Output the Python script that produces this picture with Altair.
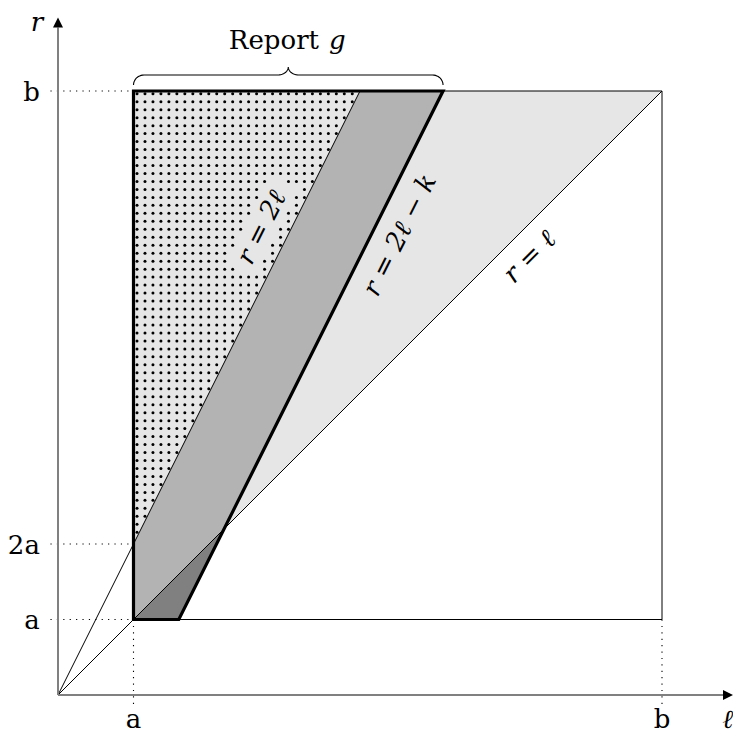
import altair as alt
import pandas as pd
import numpy as np

# ---- values (a = 1 unit) ----
A = 1.0          # a
B = 8.0          # b
K = 2.2          # k in r = 2l - k
DOT_STEP = 0.1056
DOT_X0 = 1.0464
DOT_Y0 = 7.858

tick_x_labels = ["a", "b"]
tick_x_values = [A, B]
tick_y_labels = ["a", "2a", "b"]
tick_y_values = [A, 2 * A, B]

# ---- layout ----
U = 75.5
W, H = 725, 725
OX, OY = 50, 687
XD = [-OX / U, (W - OX) / U]
YD = [(OY - H) / U, OY / U]

FONT = "DejaVu Serif"
FS = 26

xs = alt.Scale(domain=XD, nice=False, zero=False)
ys = alt.Scale(domain=YD, nice=False, zero=False)
X = alt.X("x:Q", scale=xs, axis=None)
Y = alt.Y("y:Q", scale=ys, axis=None)


def area(df, color):
    return alt.Chart(df).mark_area(color=color, opacity=1, strokeWidth=0).encode(
        x=X, y=Y, y2=alt.Y2("y2:Q"))


def segs(segments):
    rows = []
    for si, pts in enumerate(segments):
        for oi, (px, py) in enumerate(pts):
            rows.append({"seg": si, "o": oi, "x": px, "y": py})
    return pd.DataFrame(rows)


def lines(df, **kw):
    return alt.Chart(df).mark_line(**kw).encode(
        x=X, y=Y, detail="seg:N", order="o:Q")


# light gray triangle r >= l, a <= l, r <= b
light = area(pd.DataFrame({"x": [A, B], "y": [A, B], "y2": [B, B]}), "#e6e6e6")

# dot pattern left of r = 2l
ii = np.arange(-2, 80)
gx, gy = np.meshgrid(DOT_X0 + ii * DOT_STEP, DOT_Y0 - ii * DOT_STEP)
gx, gy = gx.ravel(), gy.ravel()
m = (gx > A + 0.02) & (gy < B - 0.02) & (gy > 2 * gx + 0.03)
# keep the label r = 2l free of dots
LX, LY, LA = 2.70, 6.19, np.arctan(2.0)
du = (gx - LX) * np.cos(LA) + (gy - LY) * np.sin(LA)
dv = -(gx - LX) * np.sin(LA) + (gy - LY) * np.cos(LA)
m &= ~((np.abs(du) < 0.66) & (np.abs(dv) < 0.23))
dots = alt.Chart(pd.DataFrame({"x": gx[m], "y": gy[m]})).mark_circle(
    size=9, color="black", opacity=1).encode(x=X, y=Y)

# medium band between r = 2l and r = 2l - k
band = area(pd.DataFrame({
    "x": [A, K, B / 2, (B + K) / 2],
    "y": [A, K, B - K, B],
    "y2": [2 * A, 2 * K, B, B]}), "#b3b3b3")

# dark part of the band under r = l
dark = area(pd.DataFrame({
    "x": [A, (A + K) / 2, K],
    "y": [A, A, K],
    "y2": [A, (A + K) / 2, K]}), "#808080")

thin = lines(segs([
    [(A, A), (B, A), (B, B), (A, B)],
    [(0, 0), (B, B)],
    [(0, 0), (B / 2, B)],
]), color="black", strokeWidth=1)

dotted = lines(segs([
    [(-0.1, A), (A, A)],
    [(-0.1, 2 * A), (A, 2 * A)],
    [(-0.1, B), (A, B)],
    [(A, A), (A, -0.12)],
    [(B, A), (B, -0.12)],
]), color="black", strokeWidth=1.1, strokeDash=[1.2, 5.2])

thick = lines(segs([
    [(A, A), (A, B), ((B + K) / 2, B), ((A + K) / 2, A), (A, A)],
]), color="black", strokeWidth=3.2, strokeJoin="miter", strokeCap="square")

AXE = (W - OX - 5) / U      # arrow centre, tip at the right edge
axes = lines(segs([
    [(0, 0), (AXE - 0.05, 0)],
    [(0, 0), (0, 8.84)],
]), color="#808080", strokeWidth=2)

arrow_x = alt.Chart(pd.DataFrame({"x": [AXE], "y": [0]})).mark_point(
    shape="M-1,-1L1,0L-1,1Z", size=100, filled=True, color="black", opacity=1).encode(x=X, y=Y)
arrow_y = alt.Chart(pd.DataFrame({"x": [0], "y": [8.907]})).mark_point(
    shape="M-1,1L0,-1L1,1Z", size=100, filled=True, color="black", opacity=1).encode(x=X, y=Y)

# brace over [a, (b+k)/2]
x0, x1 = A, (B + K) / 2
xm = (x0 + x1) / 2
yb, h1, h2, rx = 8.079, 0.133, 0.106, 0.14
t = np.linspace(0, np.pi / 2, 12)
left = list(zip(x0 + rx * (1 - np.cos(t)), yb + h1 * np.sin(t))) + \
    list(zip(xm - rx + rx * np.sin(t), yb + h1 + h2 * (1 - np.cos(t))))
right = [(2 * xm - px, py) for px, py in reversed(left)]
brace = lines(segs([left + right]), color="black", strokeWidth=1.1)


def text(df, **kw):
    return alt.Chart(df).mark_text(font=FONT, fontSize=FS, color="black", **kw).encode(
        x=X, y=Y, text="t:N")


tx = text(pd.DataFrame({"x": tick_x_values, "y": [-0.437] * 2, "t": tick_x_labels}),
          align="center", baseline="alphabetic")
ty = text(pd.DataFrame({"x": [-0.24] * 3, "y": [v - 0.13 for v in tick_y_values],
                        "t": tick_y_labels}), align="right", baseline="alphabetic")
report = text(pd.DataFrame({"x": [2.86], "y": [8.556], "t": ["Report"]}),
              align="center", baseline="alphabetic")
g = text(pd.DataFrame({"x": [3.70], "y": [8.556], "t": ["g"]}),
         align="center", baseline="alphabetic", fontStyle="italic")
axr = text(pd.DataFrame({"x": [-0.28], "y": [8.80], "t": ["r"]}),
           align="center", baseline="alphabetic", fontStyle="italic")
axl = text(pd.DataFrame({"x": [(W - OX) / U], "y": [-0.437], "t": ["ℓ"]}),
           align="right", baseline="alphabetic", fontStyle="italic")
lab1 = text(pd.DataFrame({"x": [LX], "y": [LY], "t": ["r = 2ℓ"]}),
            align="center", baseline="middle", fontStyle="italic", angle=296.57)
lab2 = text(pd.DataFrame({"x": [4.53], "y": [6.09], "t": ["r = 2ℓ − k"]}),
            align="center", baseline="middle", fontStyle="italic", angle=296.57)
lab3 = text(pd.DataFrame({"x": [6.25], "y": [5.80], "t": ["r = ℓ"]}),
            align="center", baseline="middle", fontStyle="italic", angle=315)

chart = alt.layer(
    light, dots, band, dark, thin, dotted, thick, axes, arrow_x, arrow_y, brace,
    tx, ty, report, g, axr, axl, lab1, lab2, lab3
).properties(
    width=W, height=H, padding=0, background="white",
    autosize=alt.AutoSizeParams(type="none")
).configure_view(stroke=None)

chart.save("out.html", embed_options={"renderer": "svg", "actions": False})
